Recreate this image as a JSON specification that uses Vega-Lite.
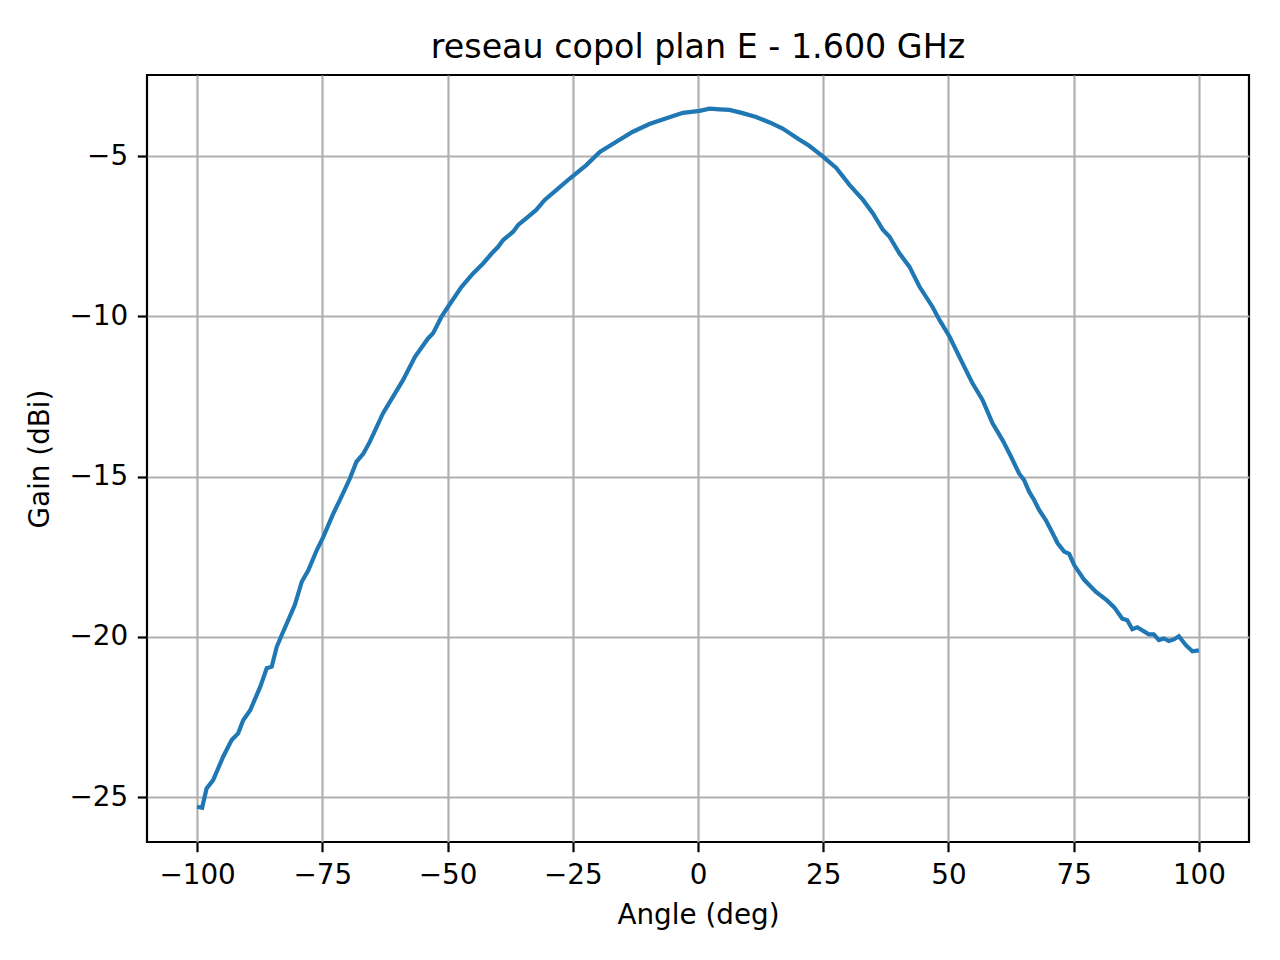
{
  "$schema": "https://vega.github.io/schema/vega-lite/v6.json",
  "autosize": "none",
  "padding": {"left": 147, "top": 75, "right": 31, "bottom": 118},
  "width": 1102,
  "height": 767,
  "background": "white",
  "title": {
    "text": "reseau copol plan E - 1.600 GHz",
    "font": "DejaVu Sans",
    "fontSize": 33.3,
    "fontWeight": "normal",
    "color": "black",
    "anchor": "middle",
    "frame": "group",
    "baseline": "alphabetic",
    "offset": -16
  },
  "data": {
    "values": [
      {"angle": -100.0, "gain": -25.30},
      {"angle": -99.0, "gain": -25.33},
      {"angle": -98.1, "gain": -24.73},
      {"angle": -96.8, "gain": -24.47},
      {"angle": -94.8, "gain": -23.74},
      {"angle": -93.1, "gain": -23.22},
      {"angle": -91.8, "gain": -23.01},
      {"angle": -90.8, "gain": -22.60},
      {"angle": -89.4, "gain": -22.29},
      {"angle": -87.4, "gain": -21.56},
      {"angle": -86.1, "gain": -20.98},
      {"angle": -85.1, "gain": -20.93},
      {"angle": -84.1, "gain": -20.31},
      {"angle": -83.1, "gain": -19.94},
      {"angle": -81.5, "gain": -19.37},
      {"angle": -80.5, "gain": -19.01},
      {"angle": -79.1, "gain": -18.28},
      {"angle": -77.8, "gain": -17.92},
      {"angle": -76.1, "gain": -17.29},
      {"angle": -74.8, "gain": -16.88},
      {"angle": -72.8, "gain": -16.15},
      {"angle": -71.2, "gain": -15.63},
      {"angle": -69.5, "gain": -15.06},
      {"angle": -68.2, "gain": -14.54},
      {"angle": -66.8, "gain": -14.28},
      {"angle": -65.5, "gain": -13.91},
      {"angle": -62.9, "gain": -13.03},
      {"angle": -58.9, "gain": -11.99},
      {"angle": -56.5, "gain": -11.26},
      {"angle": -53.9, "gain": -10.69},
      {"angle": -52.9, "gain": -10.53},
      {"angle": -51.2, "gain": -10.01},
      {"angle": -49.9, "gain": -9.70},
      {"angle": -47.2, "gain": -9.08},
      {"angle": -44.9, "gain": -8.66},
      {"angle": -42.9, "gain": -8.35},
      {"angle": -41.2, "gain": -8.04},
      {"angle": -39.9, "gain": -7.83},
      {"angle": -38.9, "gain": -7.62},
      {"angle": -36.9, "gain": -7.36},
      {"angle": -35.9, "gain": -7.15},
      {"angle": -34.3, "gain": -6.94},
      {"angle": -32.3, "gain": -6.68},
      {"angle": -30.6, "gain": -6.37},
      {"angle": -28.3, "gain": -6.06},
      {"angle": -25.6, "gain": -5.70},
      {"angle": -22.3, "gain": -5.28},
      {"angle": -19.6, "gain": -4.87},
      {"angle": -16.3, "gain": -4.55},
      {"angle": -13.0, "gain": -4.24},
      {"angle": -9.7, "gain": -4.00},
      {"angle": -6.3, "gain": -3.82},
      {"angle": -3.0, "gain": -3.65},
      {"angle": 0.3, "gain": -3.59},
      {"angle": 2.3, "gain": -3.52},
      {"angle": 4.3, "gain": -3.54},
      {"angle": 6.3, "gain": -3.56},
      {"angle": 8.9, "gain": -3.66},
      {"angle": 11.6, "gain": -3.78},
      {"angle": 14.3, "gain": -3.95},
      {"angle": 16.9, "gain": -4.14},
      {"angle": 20.2, "gain": -4.48},
      {"angle": 22.2, "gain": -4.68},
      {"angle": 24.9, "gain": -5.01},
      {"angle": 27.6, "gain": -5.37},
      {"angle": 30.2, "gain": -5.89},
      {"angle": 32.9, "gain": -6.36},
      {"angle": 34.9, "gain": -6.78},
      {"angle": 36.9, "gain": -7.30},
      {"angle": 38.2, "gain": -7.51},
      {"angle": 40.2, "gain": -8.03},
      {"angle": 42.2, "gain": -8.45},
      {"angle": 44.2, "gain": -9.07},
      {"angle": 46.8, "gain": -9.70},
      {"angle": 48.2, "gain": -10.11},
      {"angle": 50.2, "gain": -10.63},
      {"angle": 52.8, "gain": -11.46},
      {"angle": 54.8, "gain": -12.09},
      {"angle": 56.8, "gain": -12.61},
      {"angle": 58.8, "gain": -13.34},
      {"angle": 60.8, "gain": -13.86},
      {"angle": 62.5, "gain": -14.38},
      {"angle": 64.1, "gain": -14.90},
      {"angle": 65.1, "gain": -15.11},
      {"angle": 66.1, "gain": -15.47},
      {"angle": 67.1, "gain": -15.73},
      {"angle": 68.1, "gain": -16.04},
      {"angle": 69.4, "gain": -16.35},
      {"angle": 70.8, "gain": -16.77},
      {"angle": 71.8, "gain": -17.08},
      {"angle": 73.1, "gain": -17.34},
      {"angle": 74.1, "gain": -17.41},
      {"angle": 75.1, "gain": -17.76},
      {"angle": 77.1, "gain": -18.22},
      {"angle": 79.4, "gain": -18.59},
      {"angle": 81.7, "gain": -18.87},
      {"angle": 83.1, "gain": -19.08},
      {"angle": 84.7, "gain": -19.43},
      {"angle": 85.7, "gain": -19.48},
      {"angle": 86.7, "gain": -19.76},
      {"angle": 87.7, "gain": -19.70},
      {"angle": 90.0, "gain": -19.92},
      {"angle": 91.0, "gain": -19.92},
      {"angle": 92.0, "gain": -20.10},
      {"angle": 93.0, "gain": -20.05},
      {"angle": 94.0, "gain": -20.13},
      {"angle": 95.0, "gain": -20.08},
      {"angle": 96.0, "gain": -19.98},
      {"angle": 97.4, "gain": -20.26},
      {"angle": 98.7, "gain": -20.45},
      {"angle": 100.0, "gain": -20.42}
    ]
  },
  "mark": {"type": "line", "color": "#1f77b4", "strokeWidth": 4.2, "clip": true},
  "encoding": {
    "x": {
      "field": "angle",
      "type": "quantitative",
      "scale": {"domain": [-110, 110], "nice": false, "zero": false},
      "axis": {
        "title": "Angle (deg)",
        "values": [-100, -75, -50, -25, 0, 25, 50, 75, 100],
        "format": "d"
      }
    },
    "y": {
      "field": "gain",
      "type": "quantitative",
      "scale": {"domain": [-26.4, -2.47], "nice": false, "zero": false},
      "axis": {
        "title": "Gain (dBi)",
        "values": [-25, -20, -15, -10, -5],
        "format": "d"
      }
    }
  },
  "config": {
    "font": "DejaVu Sans",
    "view": {"stroke": "black", "strokeWidth": 2.2},
    "axis": {
      "domain": false,
      "grid": true,
      "gridColor": "#b0b0b0",
      "gridWidth": 2.2,
      "gridOpacity": 1,
      "ticks": true,
      "tickColor": "black",
      "tickWidth": 2.2,
      "tickSize": 9.7,
      "labelFont": "DejaVu Sans",
      "labelFontSize": 27.8,
      "labelColor": "black",
      "labelPadding": 9.7,
      "labelFlush": false,
      "labelOverlap": false,
      "titleFont": "DejaVu Sans",
      "titleFontSize": 27.8,
      "titleFontWeight": "normal",
      "titleColor": "black"
    },
    "axisX": {"titlePadding": 12},
    "axisY": {"titlePadding": 14}
  }
}
